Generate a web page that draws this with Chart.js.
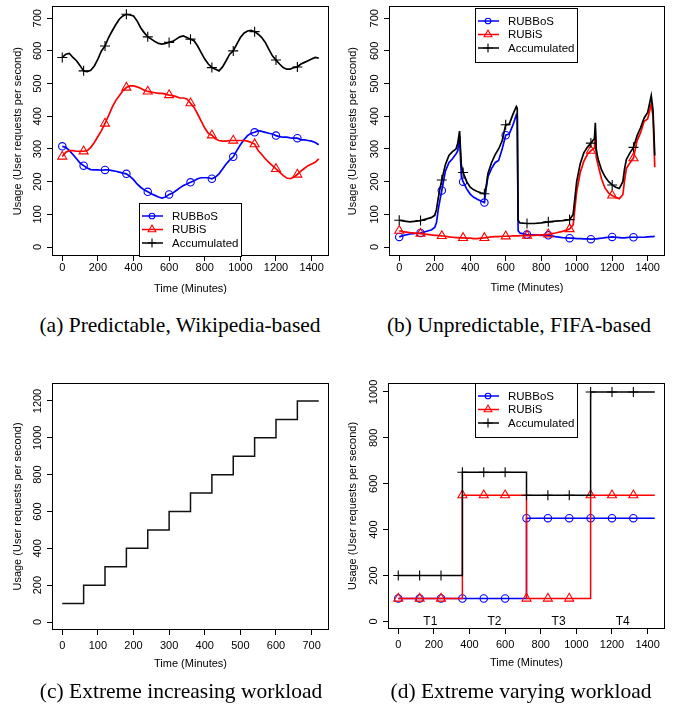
<!DOCTYPE html>
<html><head><meta charset="utf-8">
<script src="https://cdn.jsdelivr.net/npm/chart.js@4.4.1/dist/chart.umd.min.js"></script>
<style>
body{margin:0;background:#fff;width:678px;height:715px;position:relative;overflow:hidden}
canvas{position:absolute}
.cap{position:absolute;font-family:"Liberation Serif","Times New Roman",serif;font-size:21.5px;white-space:nowrap;transform:translateX(-50%);line-height:1;color:#000}
</style></head><body>
<canvas id="ca" style="left:0;top:0" width="340" height="300"></canvas>
<canvas id="cb" style="left:340px;top:0" width="338" height="300"></canvas>
<canvas id="cc" style="left:0;top:360px" width="340" height="320"></canvas>
<canvas id="cd" style="left:340px;top:360px" width="338" height="320"></canvas>
<div class="cap" style="left:180px;top:315px">(a) Predictable, Wikipedia-based</div>
<div class="cap" style="left:519px;top:315px">(b) Unpredictable, FIFA-based</div>
<div class="cap" style="left:181px;top:681px">(c) Extreme increasing workload</div>
<div class="cap" style="left:521px;top:681px">(d) Extreme varying workload</div>
<script>
// ---------- DATA ----------
const seriesNames = ['RUBBoS', 'RUBiS', 'Accumulated'];
const xTitle = 'Time (Minutes)';
const yTitle = 'Usage (User requests per second)';

// (a) Predictable, Wikipedia-based
const tA = [0,20,40,60,80,100,120,140,160,180,200,220,240,260,280,300,320,340,360,380,400,420,440,460,480,500,520,540,560,580,600,620,640,660,680,700,720,740,760,780,800,820,840,860,880,900,920,940,960,980,1000,1020,1040,1060,1080,1100,1120,1140,1160,1180,1200,1220,1240,1260,1280,1300,1320,1340,1360,1380,1400,1420,1440];
const rubbosA = [308,305,295,283,270,257,249,242,237,236,
 236,235,236,236,234,232,229,226,224,216,
 206,193,183,175,169,163,158,153,150,153,
 161,165,173,181,188,193,198,203,209,212,
 212,212,209,214,224,239,254,266,276,295,
 313,328,341,348,351,356,354,351,348,346,
 341,338,336,336,334,333,333,328,328,326,
 324,320,313];
const rubisA = [277,290,295,295,293,293,293,295,305,320,
 338,356,378,402,427,448,463,478,488,493,
 493,490,486,480,476,474,472,470,470,468,
 465,463,460,456,456,453,440,427,407,385,
 364,348,342,331,326,324,324,326,326,326,
 326,326,324,320,315,295,283,270,259,249,
 239,229,219,211,209,214,222,232,241,249,
 254,259,270];
const accA = [580,590,592,580,570,555,539,537,541,554,
 575,600,615,641,661,680,697,707,712,710,
 707,692,671,656,643,636,629,623,621,623,
 626,629,636,643,646,641,636,631,615,595,
 575,560,549,544,539,551,570,590,600,621,
 641,654,661,663,659,651,641,626,605,585,
 572,560,549,544,544,549,551,560,565,570,
 575,580,578];

// (b) Unpredictable, FIFA-based
const tB = [0,20,60,120,180,200,210,220,230,240,
 260,280,300,320,330,340,350,360,380,400,
 420,440,460,480,490,500,520,540,560,580,
 600,620,640,660,665,670,680,720,760,800,
 840,880,920,960,980,1000,1020,1040,1060,1080,
 1100,1105,1110,1120,1140,1160,1180,1200,1220,1240,
 1260,1270,1280,1300,1320,1340,1360,1380,1400,1420,
 1430,1440];
const rubbosB = [31,35,40,43,52,60,75,115,145,173,
 232,258,270,285,295,340,215,200,178,162,
 152,146,141,136,180,215,240,258,265,300,
 342,346,372,405,400,50,43,38,37,36,
 36,32,29,27,27,26,26,25,25,24,
 25,25,25,26,27,29,30,31,30,29,
 28,28,29,30,30,30,30,30,31,32,
 32,33];
const rubisB = [50,47,44,41,37,36,36,35,35,34,
 33,31,30,29,29,28,28,28,27,27,
 26,26,27,28,29,30,31,32,32,33,
 33,33,34,34,34,34,35,35,36,37,
 39,43,48,55,68,170,228,262,283,295,
 302,355,275,252,208,180,165,158,152,148,
 160,205,240,258,272,325,350,385,392,437,
 400,244];
const accB = [82,80,77,81,90,97,115,150,180,205,
 252,280,292,300,318,355,250,228,200,183,
 175,170,166,163,185,225,258,282,300,325,
 374,376,405,430,425,82,74,72,72,74,
 77,79,81,84,100,200,255,288,305,318,
 332,380,300,270,236,215,200,190,183,179,
 200,240,268,288,305,340,365,395,412,463,
 420,280];

// (c) Extreme increasing workload
const tC = [0,60,120,180,240,300,360,420,480,540,600,660,720];
const usageC = [100,200,300,400,500,600,700,800,900,1000,1100,1200,1200];

// (d) Extreme varying workload
const tD = [0,120,240,360,480,600,720,840,960,1080,1200,1320,1440];
const rubbosD = [100,100,100,100,100,100,450,450,450,450,450,450,450];
const rubisD = [100,100,100,550,550,550,100,100,100,550,550,550,550];
const accD = [200,200,200,650,650,650,550,550,550,1000,1000,1000,1000];
const phaseLabels = ['T1','T2','T3','T4'];
const phaseCenters = [180,540,900,1260];

// tick labels
const xTicks1440 = [0,200,400,600,800,1000,1200,1400];
const xTicks720 = [0,100,200,300,400,500,600,700];
const yTicks700 = [0,100,200,300,400,500,600,700];
const yTicks1200 = [0,200,400,600,800,1000,1200];
const yTicks1000 = [0,200,400,600,800,1000];

// ---------- RENDERING ----------
const FONT = '"Liberation Sans", Arial, Helvetica, sans-serif';
const BLUE = '#0000ff', RED = '#ff0000', BLACK = '#000000';
const STYLE = {
  RUBBoS: {color: BLUE, pointStyle: 'circle', r: 3.7, lr: 2.8},
  RUBiS: {color: RED, pointStyle: 'triangle', r: 5.2, lr: 4.5},
  Accumulated: {color: BLACK, pointStyle: 'cross', r: 5, lr: 4.5}
};

function xy(ts, vs) { return ts.map((t, i) => ({x: t, y: vs[i]})); }

function ds(name, data, markerFn, stepped, lw) {
  const s = STYLE[name];
  return {
    label: name, data: data, borderColor: s.color, backgroundColor: 'rgba(0,0,0,0)',
    borderWidth: lw || 1.5, tension: 0, fill: false, stepped: stepped || false,
    pointStyle: s.pointStyle, pointBorderColor: s.color, pointBackgroundColor: 'rgba(0,0,0,0)',
    pointBorderWidth: 1.1,
    pointRadius: c => markerFn(c) ? s.r : 0, pointHoverRadius: 0, pointHitRadius: 0
  };
}

const decoPlugin = {
  id: 'deco',
  afterDraw(chart, args, o) {
    const ctx = chart.ctx, ca = chart.chartArea;
    const xs = chart.scales.x, ys = chart.scales.y;
    ctx.save();
    ctx.strokeStyle = '#000'; ctx.lineWidth = 1;
    ctx.strokeRect(Math.round(ca.left) + 0.5, Math.round(ca.top) + 0.5,
      Math.round(ca.right - ca.left) - 1, Math.round(ca.bottom - ca.top) - 1);
    ctx.fillStyle = '#000';
    ctx.font = '11px ' + FONT;
    ctx.textAlign = 'center'; ctx.textBaseline = 'middle';
    o.xTicks.forEach(v => ctx.fillText(String(v), xs.getPixelForValue(v), ca.bottom + o.xLabOff));
    o.yTicks.forEach(v => {
      ctx.save(); ctx.translate(ca.left - 14, ys.getPixelForValue(v)); ctx.rotate(-Math.PI / 2);
      ctx.fillText(String(v), 0, 0); ctx.restore();
    });
    ctx.fillText(xTitle, (ca.left + ca.right) / 2, ca.bottom + o.xTitleOff);
    ctx.save(); ctx.translate(ca.left - o.yTitleOff, (ca.top + ca.bottom) / 2); ctx.rotate(-Math.PI / 2);
    ctx.fillText(yTitle, 0, 0); ctx.restore();
    if (o.notes) {
      ctx.font = '12px ' + FONT;
      o.notes.labels.forEach((t, i) => ctx.fillText(t, xs.getPixelForValue(o.notes.xs[i]), ys.getPixelForValue(o.notes.y)));
    }
    if (o.legend) {
      const L = o.legend;
      ctx.fillStyle = '#fff'; ctx.fillRect(L.x, L.y, L.w, L.h);
      ctx.strokeStyle = '#000'; ctx.lineWidth = 1;
      ctx.strokeRect(L.x + 0.5, L.y + 0.5, L.w, L.h);
      const rows = [13, 26.5, 40];
      seriesNames.forEach((nm, i) => {
        const s = STYLE[nm], cy = L.y + rows[i];
        ctx.strokeStyle = s.color; ctx.lineWidth = 1.5;
        ctx.beginPath(); ctx.moveTo(L.x + 3, cy); ctx.lineTo(L.x + 24, cy); ctx.stroke();
        ctx.lineWidth = 1.1; ctx.fillStyle = 'rgba(0,0,0,0)';
        Chart.helpers.drawPoint(ctx, {pointStyle: s.pointStyle, radius: s.lr, rotation: 0, borderWidth: 1.1}, L.x + 13, cy);
        ctx.fillStyle = '#000'; ctx.font = '11.5px ' + FONT;
        ctx.textAlign = 'left';
        ctx.fillText(nm, L.x + 33, cy + 0.5);
      });
    }
    ctx.restore();
  }
};

function makeChart(id, cfg) {
  return new Chart(document.getElementById(id), {
    type: 'line',
    data: {datasets: cfg.datasets},
    plugins: [decoPlugin],
    options: {
      responsive: false, animation: false, devicePixelRatio: 1, events: [],
      layout: {padding: cfg.padding},
      plugins: {legend: {display: false}, tooltip: {enabled: false}, deco: cfg.deco},
      scales: {
        x: {
          type: 'linear', min: cfg.xRange[0], max: cfg.xRange[1],
          afterBuildTicks: s => { s.ticks = cfg.deco.xTicks.map(v => ({value: v})); },
          afterFit: s => { s.height = cfg.xHeight; },
          ticks: {display: false},
          grid: {display: true, drawOnChartArea: false, drawTicks: true, tickLength: 5, color: '#000', lineWidth: 1},
          border: {display: false}
        },
        y: {
          type: 'linear', min: cfg.yRange[0], max: cfg.yRange[1],
          afterBuildTicks: s => { s.ticks = cfg.deco.yTicks.map(v => ({value: v})); },
          afterFit: s => { s.width = cfg.yWidth; },
          ticks: {display: false},
          grid: {display: true, drawOnChartArea: false, drawTicks: true, tickLength: 5, color: '#000', lineWidth: 1},
          border: {display: false}
        }
      }
    }
  });
}

const every120 = c => c.raw && c.raw.x % 120 === 0 && c.raw.x <= 1320;
const notLast = c => c.dataIndex < 12;
const none = c => false;

makeChart('ca', {
  datasets: [ds('Accumulated', xy(tA, accA), every120, false, 1.7), ds('RUBiS', xy(tA, rubisA), every120, false, 1.7), ds('RUBBoS', xy(tA, rubbosA), every120, false, 1.7)],
  padding: {left: 0, top: 5, right: 11, bottom: 0},
  yWidth: 52, xHeight: 44, xRange: [-57.6, 1497.6], yRange: [-27.4, 736.5],
  deco: {xTicks: xTicks1440, yTicks: yTicks700, xLabOff: 12, xTitleOff: 33, yTitleOff: 34,
    legend: {x: 139, y: 203, w: 102, h: 53}}
});
makeChart('cb', {
  datasets: [ds('Accumulated', xy(tB, accB), every120, false, 1.7), ds('RUBiS', xy(tB, rubisB), every120, false, 1.7), ds('RUBBoS', xy(tB, rubbosB), every120, false, 1.7)],
  padding: {left: 0, top: 5, right: 13, bottom: 0},
  yWidth: 49, xHeight: 44, xRange: [-57.6, 1497.6], yRange: [-27.4, 736.5],
  deco: {xTicks: xTicks1440, yTicks: yTicks700, xLabOff: 12, xTitleOff: 32, yTitleOff: 36,
    legend: {x: 135, y: 8, w: 102, h: 54}}
});
makeChart('cc', {
  datasets: [Object.assign(ds('Accumulated', xy(tC, usageC), none, 'before'), {borderColor: '#111'})],
  padding: {left: 0, top: 23, right: 11, bottom: 0},
  yWidth: 52, xHeight: 50, xRange: [-28.8, 748.8], yRange: [-43.4, 1297.7],
  deco: {xTicks: xTicks720, yTicks: yTicks1200, xLabOff: 15.5, xTitleOff: 34, yTitleOff: 34}
});
makeChart('cd', {
  datasets: [ds('Accumulated', xy(tD, accD), notLast, 'before'), ds('RUBiS', xy(tD, rubisD), notLast, 'before'), ds('RUBBoS', xy(tD, rubbosD), notLast, 'before')],
  padding: {left: 0, top: 23, right: 13, bottom: 0},
  yWidth: 48, xHeight: 51, xRange: [-57.6, 1497.6], yRange: [-33, 1039],
  deco: {xTicks: xTicks1440, yTicks: yTicks1000, xLabOff: 15.5, xTitleOff: 34, yTitleOff: 35,
    legend: {x: 135, y: 23, w: 102, h: 54},
    notes: {labels: phaseLabels, xs: phaseCenters, y: 0}}
});
</script>
</body></html>
